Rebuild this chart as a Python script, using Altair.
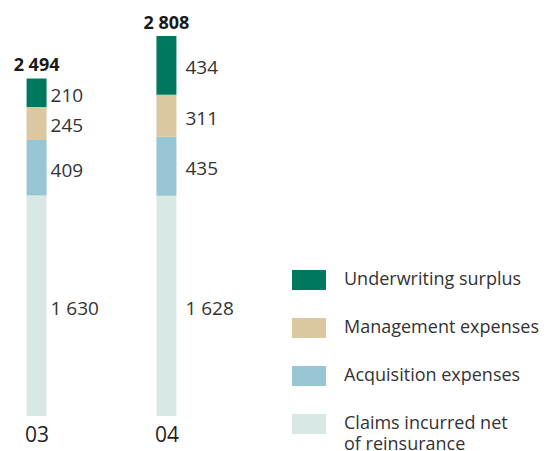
import altair as alt
import pandas as pd

years = ["03", "04"]
categories = [
    "Claims incurred net of reinsurance",
    "Acquisition expenses",
    "Management expenses",
    "Underwriting surplus",
]
values_03 = [1630, 409, 245, 210]
values_04 = [1628, 435, 311, 434]
cat_colors = ["#d8e9e5", "#97c5d3", "#dbc8a0", "#00785f"]

rows = []
for yr, vals in zip(years, [values_03, values_04]):
    for i, (c, v) in enumerate(zip(categories, vals)):
        rows.append({"year": yr, "category": c, "value": v, "ord": i})
df = pd.DataFrame(rows)

legend_order = categories[::-1]
legend_colors = cat_colors[::-1]

FONT = "Open Sans"
TXT = "#333333"

xenc = alt.X(
    "year:N",
    sort=years,
    scale=alt.Scale(type="point", padding=0.22),
    axis=alt.Axis(
        title=None, labelAngle=0, domain=False, ticks=False,
        labelFontSize=21, labelColor="#1f1f1f", labelPadding=8,
        labelFont=FONT,
    ),
)
yscale = alt.Scale(domain=[0, 2808], nice=False, zero=True)

base = alt.Chart(df)

bars = base.mark_bar(size=20).encode(
    x=xenc,
    y=alt.Y("value:Q", stack="zero", scale=yscale, axis=None),
    color=alt.Color(
        "category:N",
        scale=alt.Scale(domain=legend_order, range=legend_colors),
        legend=alt.Legend(
            title=None,
            orient="none",
            legendX=284,
            legendY=227,
            direction="vertical",
            symbolType="M-1,-0.588H1V0.588H-1Z",
            symbolSize=1156,
            symbolStrokeWidth=0,
            symbolOpacity=1,
            labelFont=FONT,
            labelFontSize=18,
            labelColor=TXT,
            labelOffset=18,
            labelLimit=0,
            rowPadding=21,
            padding=0,
            labelExpr="datum.label == 'Claims incurred net of reinsurance' ? ['Claims incurred net', 'of reinsurance'] : datum.label",
        ),
    ),
    order=alt.Order("ord:Q", sort="ascending"),
)

stacked = base.transform_stack(
    stack="value", groupby=["year"], as_=["y0", "y1"],
    sort=[alt.SortField("ord", order="ascending")],
).transform_calculate(
    mid="(datum.y0 + datum.y1) / 2",
    lbl="replace(format(datum.value, ',d'), ',', ' ')",
)

def seg_labels(yr, dx):
    return stacked.transform_filter(alt.datum.year == yr).mark_text(
        align="left", baseline="middle", dx=dx, dy=3,
        font=FONT, fontSize=19, color=TXT,
    ).encode(
        x=xenc,
        y=alt.Y("mid:Q", scale=yscale, axis=None),
        text="lbl:N",
    )

totals = base.transform_aggregate(
    total="sum(value)", groupby=["year"]
).transform_calculate(
    lbl="replace(format(datum.total, ',d'), ',', ' ')"
).mark_text(
    align="center", baseline="middle", dy=-12.5,
    font=FONT, fontSize=18, fontWeight="bold", color="#1a1a1a",
).encode(
    x=xenc,
    y=alt.Y("total:Q", scale=yscale, axis=None),
    text="lbl:N",
)

chart = alt.layer(bars, seg_labels("03", 14), seg_labels("04", 19), totals).properties(
    width=187,
    height=380,
    autosize=alt.AutoSizeParams(type="none"),
    padding={"left": 0, "top": 28, "right": 349, "bottom": 35},
).configure(
    background="white",
    style={"guide-label": {"lineHeight": 21}},
).configure_view(stroke=None, strokeWidth=0)

chart.save("out.html", embed_options={"renderer": "svg", "actions": False})
